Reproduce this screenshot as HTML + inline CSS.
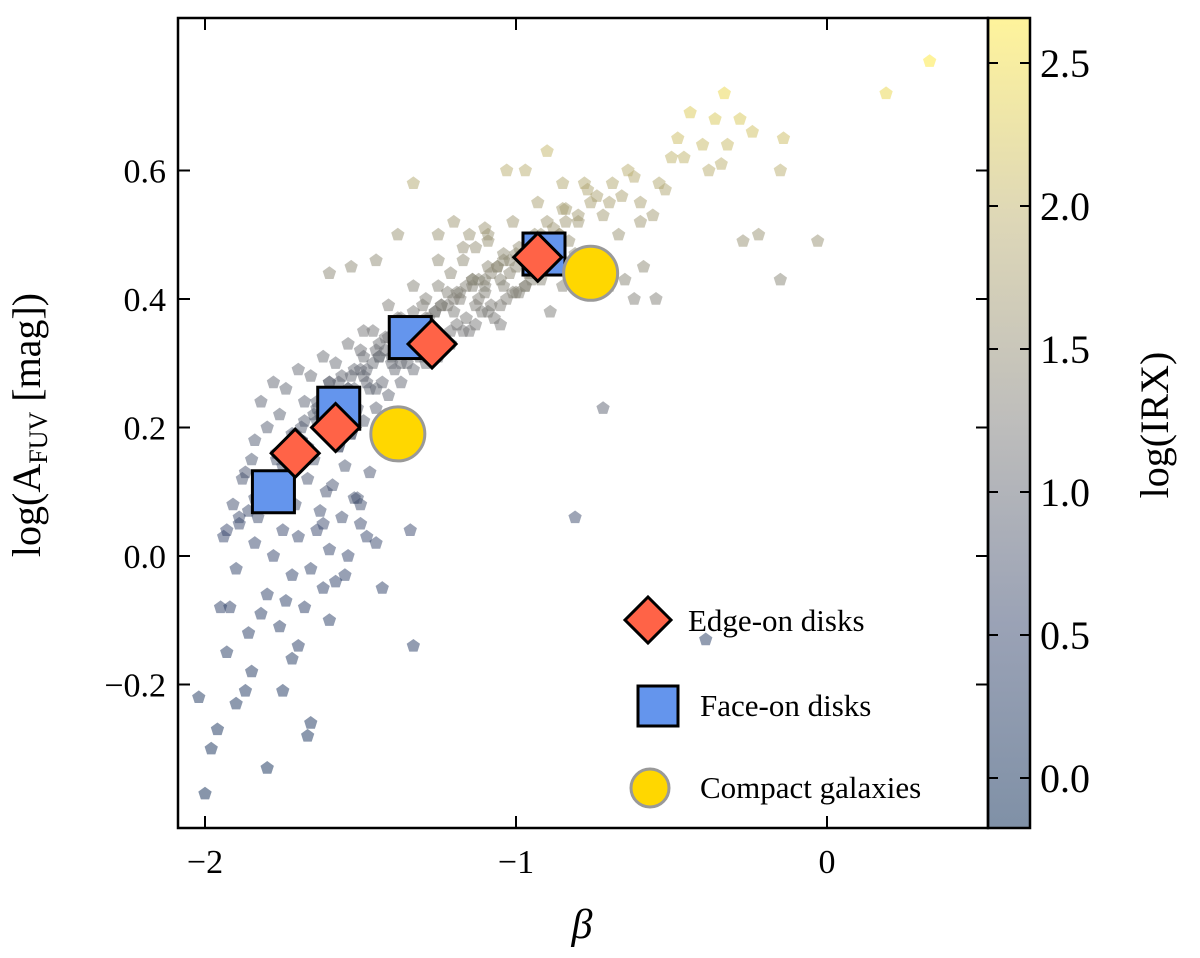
<!DOCTYPE html>
<html><head><meta charset="utf-8">
<style>
html,body{margin:0;padding:0;background:#fff;}
svg text{font-family:"Liberation Serif","DejaVu Serif",serif;fill:#000;}
</style></head>
<body>
<svg id="chart" width="1200" height="953" viewBox="0 0 1200 953" xmlns="http://www.w3.org/2000/svg">
<defs>
<linearGradient id="cbgrad" x1="0" y1="1" x2="0" y2="0">
<stop offset="0" stop-color="#00224e" stop-opacity="0.5"/>
<stop offset="0.25" stop-color="#35456c" stop-opacity="0.5"/>
<stop offset="0.5" stop-color="#7c7b78" stop-opacity="0.5"/>
<stop offset="0.75" stop-color="#bcaf6f" stop-opacity="0.5"/>
<stop offset="1" stop-color="#fee838" stop-opacity="0.5"/>
</linearGradient>
</defs>
<g id="scatter"></g>
<g id="big"></g>
<g id="axes"></g>
</svg>
<script>
// ---- data ----
const scatterBeta = [0.33,0.19,-0.03,-0.22,-0.27,-0.15,-0.33,-0.36,-0.28,-0.32,-0.24,-0.14,-0.15,-0.34,-0.38,-0.40,-0.44,-0.48,-0.46,-0.50,-0.54,-0.52,-0.56,-0.60,-0.62,-0.66,-0.70,-0.72,-0.74,-0.78,-0.80,-0.84,-0.86,-0.90,-0.94,-0.97,-1.03,-1.10,-1.15,-1.20,-1.25,-1.33,-1.45,-1.53,-1.60,-1.38,-0.59,-0.65,-0.62,-0.55,-0.70,-0.78,-0.85,-1.00,-1.05,-1.10,-0.85,-0.90,-0.72,-0.81,-1.34,-1.33,-0.39,
-2.00,-2.02,-1.98,-1.96,-1.90,-1.87,-1.80,-1.85,-1.72,-1.75,-1.66,-1.67,-1.70,-1.92,-1.93,-1.55,-1.45,-1.50,-1.43,-1.60,-1.62,
-1.95,-1.93,-1.90,-1.88,-1.86,-1.84,-1.82,-1.80,-1.78,-1.76,-1.74,-1.72,-1.70,-1.68,-1.66,-1.64,-1.62,-1.60,-1.58,-1.56,-1.54,-1.52,-1.50,-1.48,
-1.91,-1.87,-1.83,-1.79,-1.75,-1.71,-1.67,-1.63,-1.59,-1.55,-1.51,-1.47,-1.89,-1.85,-1.81,-1.77,-1.73,-1.69,-1.65,-1.61,-1.57,-1.53,
-1.84,-1.80,-1.76,-1.72,-1.68,-1.64,-1.60,-1.56,-1.52,-1.48,-1.44,-1.40,-1.36,-1.32,-1.28,-1.24,-1.20,-1.16,-1.12,-1.08,-1.04,-1.00,-0.96,-0.92,
-1.82,-1.78,-1.74,-1.70,-1.66,-1.62,-1.58,-1.54,-1.50,-1.46,-1.42,-1.38,-1.34,-1.30,-1.26,-1.22,-1.18,-1.14,-1.10,-1.06,-1.02,-0.98,-0.94,-0.90,
-1.75,-1.71,-1.67,-1.63,-1.59,-1.55,-1.51,-1.47,-1.43,-1.39,-1.35,-1.31,-1.27,-1.23,-1.19,-1.15,-1.11,-1.07,-1.03,-0.99,-0.95,-0.91,-0.87,-0.83,
-1.68,-1.64,-1.60,-1.56,-1.52,-1.48,-1.44,-1.40,-1.36,-1.32,-1.28,-1.24,-1.20,-1.16,-1.12,-1.08,-1.04,-1.00,-0.96,-0.92,-0.88,-0.84,-0.80,-0.76,
-1.49,-1.41,-1.33,-1.25,-1.17,-1.09,-1.01,-0.93,-0.85,-0.77,-0.69,-0.64,-1.45,-1.37,-1.29,-1.21,-1.13,-1.05,-0.97,-0.89,-0.81,-0.73,-0.67,-0.60,
-1.62,-1.58,-1.54,-1.50,-1.46,-1.42,-1.38,-1.34,-1.30,-1.26,-1.22,-1.18,-1.14,-1.10,-1.06,-1.02,-0.98,-0.94,-0.90,-0.86,
-1.57,-1.53,-1.49,-1.45,-1.41,-1.37,-1.33,-1.29,-1.25,-1.21,-1.17,-1.13,-1.09,-1.05,-1.01,-0.97,-0.93,-0.89,-0.85,-0.81,
-1.86,-1.81,-1.77,-1.73,-1.69,-1.65,-1.61,-1.57,-1.53,-1.49,-1.45,-1.41,-1.37,-1.33,-1.29,-1.25,-1.21,-1.17,-1.13,-1.09,
-1.94,-1.89,-1.84,-1.79,-1.74,-1.69,-1.64,-1.59,-1.54,-1.49,-1.44,-1.39,-1.34,-1.29,-1.24,-1.19,-1.14,-1.09,-1.04,-0.99];
const scatterLogA = [0.77,0.72,0.49,0.50,0.49,0.43,0.72,0.68,0.68,0.64,0.66,0.65,0.60,0.61,0.60,0.64,0.69,0.65,0.62,0.62,0.58,0.57,0.53,0.55,0.59,0.56,0.55,0.53,0.56,0.58,0.52,0.54,0.50,0.52,0.50,0.60,0.60,0.51,0.50,0.52,0.50,0.58,0.46,0.45,0.44,0.50,0.45,0.43,0.40,0.40,0.42,0.44,0.42,0.45,0.43,0.41,0.58,0.63,0.23,0.06,0.04,-0.14,-0.13,
-0.37,-0.22,-0.30,-0.27,-0.23,-0.21,-0.33,-0.18,-0.16,-0.21,-0.26,-0.28,-0.14,-0.08,-0.15,-0.03,0.02,0.08,-0.05,-0.10,0.05,
-0.08,0.04,-0.02,0.12,-0.12,0.02,-0.09,-0.06,0.00,-0.11,-0.07,-0.03,0.03,-0.08,-0.02,0.04,-0.05,0.01,-0.04,0.06,0.00,0.09,0.05,0.03,
0.08,0.13,0.06,0.10,0.04,0.08,0.12,0.07,0.11,0.14,0.09,0.13,0.05,0.15,0.11,0.16,0.13,0.18,0.15,0.10,0.17,0.19,
0.18,0.20,0.22,0.19,0.24,0.23,0.27,0.25,0.29,0.27,0.31,0.30,0.33,0.32,0.36,0.34,0.38,0.37,0.40,0.39,0.42,0.41,0.44,0.43,
0.24,0.27,0.26,0.29,0.28,0.31,0.30,0.33,0.32,0.35,0.34,0.37,0.36,0.39,0.38,0.41,0.40,0.43,0.42,0.45,0.44,0.47,0.46,0.49,
0.14,0.19,0.17,0.22,0.21,0.24,0.23,0.26,0.27,0.29,0.30,0.31,0.33,0.34,0.36,0.35,0.38,0.37,0.40,0.41,0.43,0.45,0.47,0.49,
0.21,0.24,0.27,0.28,0.26,0.29,0.33,0.31,0.35,0.36,0.37,0.39,0.40,0.42,0.43,0.44,0.46,0.47,0.48,0.50,0.51,0.52,0.53,0.55,
0.35,0.39,0.42,0.46,0.48,0.50,0.52,0.55,0.54,0.57,0.58,0.60,0.26,0.30,0.33,0.35,0.39,0.36,0.42,0.38,0.46,0.47,0.50,0.52,
0.22,0.25,0.26,0.29,0.30,0.32,0.33,0.35,0.36,0.38,0.39,0.41,0.42,0.43,0.45,0.46,0.47,0.48,0.49,0.50,
0.17,0.19,0.21,0.23,0.25,0.27,0.29,0.30,0.31,0.33,0.35,0.36,0.38,0.39,0.41,0.42,0.44,0.45,0.46,0.47,
0.07,0.12,0.15,0.17,0.20,0.22,0.25,0.27,0.28,0.31,0.32,0.34,0.37,0.38,0.40,0.42,0.44,0.46,0.48,0.49,
0.03,0.06,0.09,0.12,0.16,0.18,0.21,0.24,0.26,0.28,0.31,0.33,0.35,0.37,0.39,0.41,0.43,0.45,0.47,0.48];
const faceBeta=[-1.78,-1.57,-1.34,-0.91], faceLogA=[0.10,0.23,0.34,0.47];
const edgeBeta=[-1.71,-1.58,-1.27,-0.93], edgeLogA=[0.16,0.20,0.33,0.465];
const compBeta=[-1.38,-0.76], compLogA=[0.19,0.44];
const xTicks=[-2,-1,0], xTickLabels=["\u22122","\u22121","0"];
const yTicks=[-0.2,0,0.2,0.4,0.6], yTickLabels=["\u22120.2","0.0","0.2","0.4","0.6"];
const cTicks=[0,0.5,1,1.5,2,2.5], cTickLabels=["0.0","0.5","1.0","1.5","2.0","2.5"];

// ---- axes ----
const L=178,R=988,T=18,B=828,CB=1030;
const X=b=>827+b*311;
const Y=a=>556-a*642.5;
const C=v=>778-v*286;
const cmin=-0.175,cmax=2.66;
const NS="http://www.w3.org/2000/svg";
function mk(tag,attrs,parent){const e=document.createElementNS(NS,tag);for(const k in attrs)e.setAttribute(k,attrs[k]);parent.appendChild(e);return e;}
const stops=[[0,[0,34,78]],[0.25,[53,69,108]],[0.5,[124,123,120]],[0.75,[188,175,111]],[1,[254,232,56]]];
function cmap(t){t=Math.max(0,Math.min(1,t));for(let i=1;i<stops.length;i++){if(t<=stops[i][0]){const a=stops[i-1],b=stops[i];const f=(t-a[0])/(b[0]-a[0]);const c=a[1].map((v,j)=>Math.round(v+(b[1][j]-v)*f));return `rgb(${c[0]},${c[1]},${c[2]})`;}}return "rgb(254,232,56)";}
function irxFromLogA(la){const A=Math.pow(10,la);return Math.log10(Math.max(0.05,(Math.pow(10,0.4*A)-1)/0.46));}
function pent(cx,cy,r){let p=[];for(let i=0;i<5;i++){const a=-Math.PI/2+i*2*Math.PI/5;p.push((cx+r*Math.cos(a)).toFixed(1)+","+(cy+r*Math.sin(a)).toFixed(1));}return p.join(" ");}

const sc=document.getElementById('scatter');
for(let i=0;i<scatterBeta.length;i++){
  const t=(irxFromLogA(scatterLogA[i])-cmin)/(cmax-cmin);
  const p=mk('polygon',{points:pent(X(scatterBeta[i]),Y(scatterLogA[i]),7),fill:cmap(t),'fill-opacity':0.5},sc);
  
  
}
const bg=document.getElementById('big');
for(let i=0;i<faceBeta.length;i++){
  const x=X(faceBeta[i]),y=Y(faceLogA[i]);
  const r=mk('rect',{x:x-21,y:y-21,width:42,height:42,fill:'#6495ed',stroke:'#000','stroke-width':3},bg);
  
  
}
for(let i=0;i<edgeBeta.length;i++){
  const x=X(edgeBeta[i]),y=Y(edgeLogA[i]);
  const d=mk('polygon',{points:`${x},${y-24} ${x+24},${y} ${x},${y+24} ${x-24},${y}`,fill:'#ff6347',stroke:'#000','stroke-width':3},bg);
  
  
}
for(let i=0;i<compBeta.length;i++){
  const c=mk('circle',{cx:X(compBeta[i]),cy:Y(compLogA[i]),r:27,fill:'#ffd700',stroke:'#999','stroke-width':3},bg);
  
  
}
const ax=document.getElementById('axes');
const cbr=mk('rect',{x:R,y:T,width:CB-R,height:B-T,fill:'url(#cbgrad)'},ax);


const frame=mk('rect',{x:L,y:T,width:R-L,height:B-T,fill:'none',stroke:'#000','stroke-width':2.5},ax);


const cbf=mk('rect',{x:R,y:T,width:CB-R,height:B-T,fill:'none',stroke:'#000','stroke-width':2.5},ax);


xTicks.forEach((v,i)=>{const x=X(v);
  mk('line',{x1:x,y1:B,x2:x,y2:B-12,stroke:'#000','stroke-width':2},ax);
  mk('line',{x1:x,y1:T,x2:x,y2:T+12,stroke:'#000','stroke-width':2},ax);
  const t=mk('text',{x:x,y:B+45,'font-size':34,'text-anchor':'middle'},ax);t.textContent=xTickLabels[i];
  
  
});
yTicks.forEach((v,i)=>{const y=Y(v);
  mk('line',{x1:L,y1:y,x2:L+12,y2:y,stroke:'#000','stroke-width':2},ax);
  mk('line',{x1:R,y1:y,x2:R-12,y2:y,stroke:'#000','stroke-width':2},ax);
  const t=mk('text',{x:L-12,y:y+12,'font-size':34,'text-anchor':'end'},ax);t.textContent=yTickLabels[i];
  
  
});
cTicks.forEach((v,i)=>{const y=C(v);
  mk('line',{x1:CB,y1:y,x2:CB-10,y2:y,stroke:'#000','stroke-width':2},ax);
  mk('line',{x1:R,y1:y,x2:R+10,y2:y,stroke:'#000','stroke-width':2},ax);
  const t=mk('text',{x:CB+10,y:y+14,'font-size':40},ax);t.textContent=cTickLabels[i];
  
  
});
</script>
<svg width="1200" height="953" viewBox="0 0 1200 953" style="position:absolute;left:0;top:0" xmlns="http://www.w3.org/2000/svg">
<text x="582" y="938" font-size="42" font-style="italic" text-anchor="middle">β</text>
<text transform="translate(40,425) rotate(-90)" font-size="40" text-anchor="middle">log(A<tspan font-size="26" dy="7">FUV</tspan><tspan dy="-7"> [mag])</tspan></text>
<text transform="translate(1168,425) rotate(-90)" font-size="40" text-anchor="middle">log(IRX)</text>
<g>
<polygon points="648,597 671,620 648,643 625,620" fill="#ff6347" stroke="#000" stroke-width="3"/>
<text x="688" y="631" font-size="31">Edge-on disks</text>
<rect x="638" y="686" width="40" height="40" fill="#6495ed" stroke="#000" stroke-width="3"/>
<text x="700" y="716" font-size="31">Face-on disks</text>
<circle cx="650" cy="788" r="19" fill="#ffd700" stroke="#999" stroke-width="3"/>
<text x="700" y="798" font-size="31">Compact galaxies</text>
</g>
</svg>
</body></html>
